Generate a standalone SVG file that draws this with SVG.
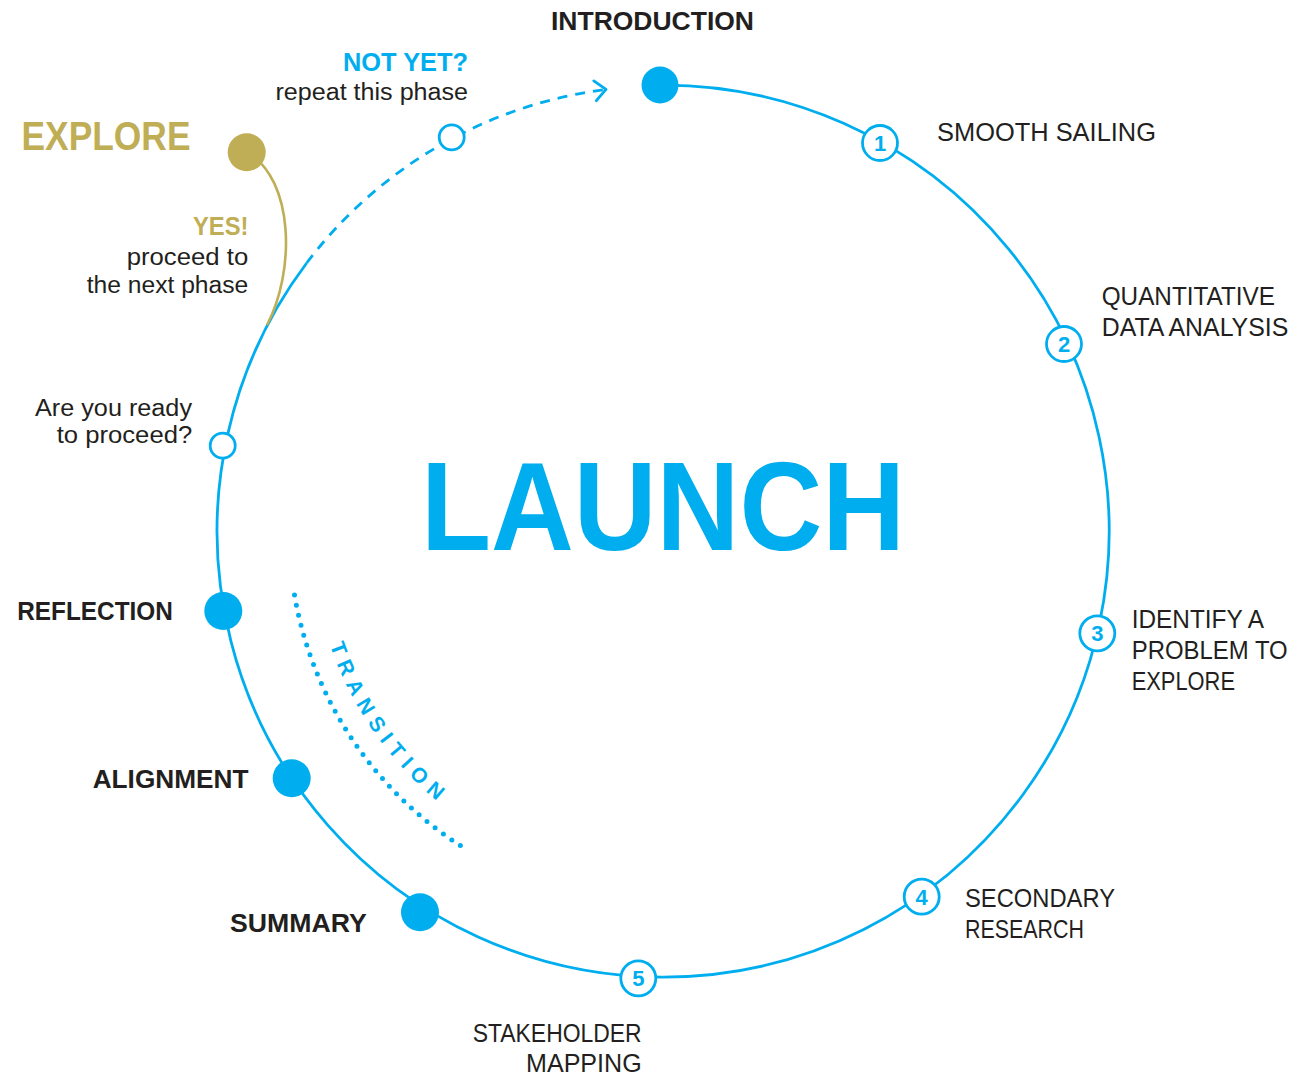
<svg xmlns="http://www.w3.org/2000/svg" width="1312" height="1076" viewBox="0 0 1312 1076">
  <style>
    .bold { font-family: "Liberation Sans", Arial, sans-serif; font-weight: 700; }
    .reg { font-family: "Liberation Sans", Arial, sans-serif; font-weight: 400; }
    .dark { fill: #231F20; }
    .blue { fill: #00AEEF; }
    .gold { fill: #BFAE55; }
    .h26 { font-size: 26px; }
    .body { font-size: 23px; }
    .step { font-size: 26px; }
    .num { font-size: 22px; text-anchor: middle; }
    .dot { fill: #00AEEF; }
    .ring { fill: #FFFFFF; stroke: #00AEEF; stroke-width: 2.8; }
    .line { fill: none; stroke: #00AEEF; stroke-width: 2.8; }
  </style>
  <defs>
    <marker id="chev" markerUnits="userSpaceOnUse" markerWidth="16" markerHeight="26" refX="13" refY="12" orient="auto">
      <path d="M2,2 L13,12 L2,22" fill="none" stroke="#00AEEF" stroke-width="2.8" stroke-linecap="round" stroke-linejoin="round"/>
    </marker>
    <path id="transPath" d="M326.4,634.3 A351.5 351.5 0 0 0 451,812.2"/>
  </defs>
  <rect width="1312" height="1076" fill="#FFFFFF"/>

  <g id="connectors">
    <path id="main-cycle" class="line" d="M660,85.1 A446 446 0 1 1 306.7,263"/>
    <path id="not-yet-loop" class="line" stroke-dasharray="10 8" d="M306.7,263 A446 446 0 0 1 606,89.4" marker-end="url(#chev)"/>
    <path id="yes-link" d="M247,152 C295,180 295,272 267,325" fill="none" stroke="#BFAE55" stroke-width="2.6"/>
    <path id="transition-arc" d="M294.5,595.1 A373.5 373.5 0 0 0 461.2,846.1" fill="none" stroke="#00AEEF" stroke-width="5" stroke-linecap="round" stroke-dasharray="0 10.3"/>
  </g>

  <g id="title">
    <text class="bold blue" x="421" y="550" font-size="126" textLength="484" lengthAdjust="spacingAndGlyphs">LAUNCH</text>
  </g>

  <g id="transition-label">
    <text class="bold blue" font-size="21" letter-spacing="7"><textPath href="#transPath" startOffset="50%" text-anchor="middle">TRANSITION</textPath></text>
  </g>

  <g id="node-introduction">
    <circle class="dot" cx="660" cy="85" r="18.5"/>
    <text class="bold dark h26" x="551" y="30" textLength="203" lengthAdjust="spacingAndGlyphs">INTRODUCTION</text>
  </g>

  <g id="node-1">
    <circle class="ring" cx="880" cy="143" r="17.5"/>
    <text class="bold blue num" x="880" y="151">1</text>
    <text class="reg dark step" x="937" y="141" textLength="219" lengthAdjust="spacingAndGlyphs">SMOOTH SAILING</text>
  </g>

  <g id="node-2">
    <circle class="ring" cx="1064" cy="344" r="17.5"/>
    <text class="bold blue num" x="1064" y="352">2</text>
    <text class="reg dark step" x="1101.7" y="305" textLength="173.3" lengthAdjust="spacingAndGlyphs">QUANTITATIVE</text>
    <text class="reg dark step" x="1101.7" y="336" textLength="186.6" lengthAdjust="spacingAndGlyphs">DATA ANALYSIS</text>
  </g>

  <g id="node-3">
    <circle class="ring" cx="1097.3" cy="633.3" r="17.5"/>
    <text class="bold blue num" x="1097.3" y="641.3">3</text>
    <text class="reg dark step" x="1131.7" y="627.5" textLength="132.3" lengthAdjust="spacingAndGlyphs">IDENTIFY A</text>
    <text class="reg dark step" x="1131.7" y="658.5" textLength="156" lengthAdjust="spacingAndGlyphs">PROBLEM TO</text>
    <text class="reg dark step" x="1131.7" y="690" textLength="103.3" lengthAdjust="spacingAndGlyphs">EXPLORE</text>
  </g>

  <g id="node-4">
    <circle class="ring" cx="921.7" cy="896.7" r="17.5"/>
    <text class="bold blue num" x="921.7" y="904.7">4</text>
    <text class="reg dark step" x="965" y="906.7" textLength="150" lengthAdjust="spacingAndGlyphs">SECONDARY</text>
    <text class="reg dark step" x="965" y="938.3" textLength="119" lengthAdjust="spacingAndGlyphs">RESEARCH</text>
  </g>

  <g id="node-5">
    <circle class="ring" cx="638.3" cy="978.3" r="17.5"/>
    <text class="bold blue num" x="638.3" y="986.3">5</text>
    <text class="reg dark step" x="472.7" y="1042" textLength="169" lengthAdjust="spacingAndGlyphs">STAKEHOLDER</text>
    <text class="reg dark step" x="526" y="1071.5" textLength="115.7" lengthAdjust="spacingAndGlyphs">MAPPING</text>
  </g>

  <g id="node-summary">
    <circle class="dot" cx="420" cy="912.3" r="19"/>
    <text class="bold dark h26" x="230" y="931.7" textLength="136.7" lengthAdjust="spacingAndGlyphs">SUMMARY</text>
  </g>

  <g id="node-alignment">
    <circle class="dot" cx="291.7" cy="778.3" r="19"/>
    <text class="bold dark h26" x="92.7" y="787.7" textLength="155.7" lengthAdjust="spacingAndGlyphs">ALIGNMENT</text>
  </g>

  <g id="node-reflection">
    <circle class="dot" cx="223.3" cy="611" r="19"/>
    <text class="bold dark h26" x="17.3" y="620" textLength="155.5" lengthAdjust="spacingAndGlyphs">REFLECTION</text>
  </g>

  <g id="node-ready">
    <circle class="ring" cx="222.7" cy="445.7" r="12.5"/>
    <text class="reg dark body" x="35" y="415.7" textLength="157" lengthAdjust="spacingAndGlyphs">Are you ready</text>
    <text class="reg dark body" x="56.7" y="443.3" textLength="135.5" lengthAdjust="spacingAndGlyphs">to proceed?</text>
  </g>

  <g id="node-not-yet">
    <circle class="ring" cx="451.7" cy="137.3" r="12.5"/>
    <text class="bold blue h26" x="343" y="71" textLength="125" lengthAdjust="spacingAndGlyphs">NOT YET?</text>
    <text class="reg dark body" x="275.5" y="99.5" textLength="192.5" lengthAdjust="spacingAndGlyphs">repeat this phase</text>
  </g>

  <g id="node-explore">
    <circle cx="246.7" cy="152.3" r="19" fill="#BFAE55"/>
    <text class="bold gold" font-size="40" x="21.5" y="150" textLength="169" lengthAdjust="spacingAndGlyphs">EXPLORE</text>
    <text class="bold gold h26" x="193" y="235" textLength="55.5" lengthAdjust="spacingAndGlyphs">YES!</text>
    <text class="reg dark body" x="126.7" y="265" textLength="121.6" lengthAdjust="spacingAndGlyphs">proceed to</text>
    <text class="reg dark body" x="86.7" y="293.3" textLength="161.6" lengthAdjust="spacingAndGlyphs">the next phase</text>
  </g>
</svg>
